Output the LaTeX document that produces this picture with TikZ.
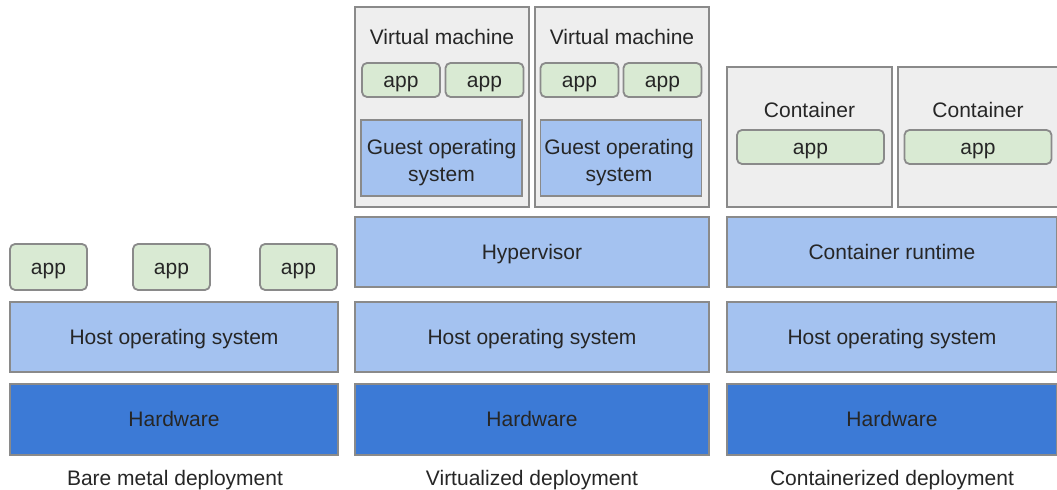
\documentclass[tikz,border=0pt]{standalone}
\usepackage{fontspec}
\setmainfont{Liberation Sans}
\definecolor{hwblue}{HTML}{3C7AD6}
\definecolor{osblue}{HTML}{A4C2F0}
\definecolor{appgreen}{HTML}{D9EAD3}
\definecolor{vmgray}{HTML}{EEEEEE}
\definecolor{edge}{HTML}{8A8A8A}

\begin{document}
\begin{tikzpicture}[x=0.5pt, y=-0.5pt,
  every node/.style={font=\fontsize{10.5}{13.5}\selectfont, text=black!85, text height=7.5pt, text depth=0pt},
  layer/.style={draw=edge, line width=0.9pt, fill=osblue, minimum height=35pt, inner sep=0pt},
  hw/.style={layer, fill=hwblue, minimum height=35.5pt},
  app/.style={draw=edge, line width=0.9pt, fill=appgreen, rounded corners=2.5pt, inner sep=0pt},
  vmbox/.style={draw=edge, line width=0.9pt, fill=vmgray, inner sep=0pt},
  guest/.style={layer, minimum width=80.5pt, minimum height=38pt},
  twoline/.style={align=center, text height=, text depth=}]
\clip (0,0) rectangle (1057,490);
\fill[white] (0,0) rectangle (1057,490);
\node[hw, minimum width=164pt] (hw1) at (174,419.5) {Hardware};
\node[layer, minimum width=164pt] (os1) at (174,337) {Host operating system};
\node[app, minimum width=38.5pt, minimum height=23pt] (a1) at (48.5,267) {app};
\node[app, minimum width=38.5pt, minimum height=23pt] (a2) at (171.5,267) {app};
\node[app, minimum width=38.5pt, minimum height=23pt] (a3) at (298.5,267) {app};
\node (l1) at (175,478) {Bare metal deployment};

\node[hw, minimum width=177pt] (hw2) at (532,419.5) {Hardware};
\node[layer, minimum width=177pt] (os2) at (532,337) {Host operating system};
\node[layer, minimum width=177pt] (hyp) at (532,252) {Hypervisor};
\node[vmbox, minimum width=87pt, minimum height=100pt] (vm1) at (442,107) {};
\node[vmbox, minimum width=87pt, minimum height=100pt] (vm2) at (622,107) {};
\node (vm1t) at (442,37) {Virtual machine};
\node (vm2t) at (622,37) {Virtual machine};
\node[app, minimum width=39pt, minimum height=17pt] (v1a) at (401,80) {app};
\node[app, minimum width=39pt, minimum height=17pt] (v1b) at (484.5,80) {app};
\node[app, minimum width=39pt, minimum height=17pt] (v2a) at (579.5,80) {app};
\node[app, minimum width=39pt, minimum height=17pt] (v2b) at (662.5,80) {app};
\node[guest] (g1) at (441.5,158) {};
\node[guest] (g2) at (621,158) {};
\node[twoline] (g1t) at (441.5,163) {Guest operating\\system};
\node[twoline] (g2t) at (619,163) {Guest operating\\system};
\node (l2) at (532,478) {Virtualized deployment};

\node[hw, minimum width=165pt] (hw3) at (892,419.5) {Hardware};
\node[layer, minimum width=165pt] (os3) at (892,337) {Host operating system};
\node[layer, minimum width=165pt] (rt) at (892,252) {Container runtime};
\node[vmbox, minimum width=82.5pt, minimum height=70pt] (c1) at (809.5,137) {};
\node[vmbox, minimum width=82.5pt, minimum height=70pt] (c2) at (980.5,137) {};
\node (c1t) at (809.5,110) {Container};
\node (c2t) at (978,110) {Container};
\node[app, minimum width=73.5pt, minimum height=17pt] (c1a) at (810.5,147) {app};
\node[app, minimum width=73.5pt, minimum height=17pt] (c2a) at (978,147) {app};
\node (l3) at (892,478) {Containerized deployment};
\end{tikzpicture}
\end{document}
